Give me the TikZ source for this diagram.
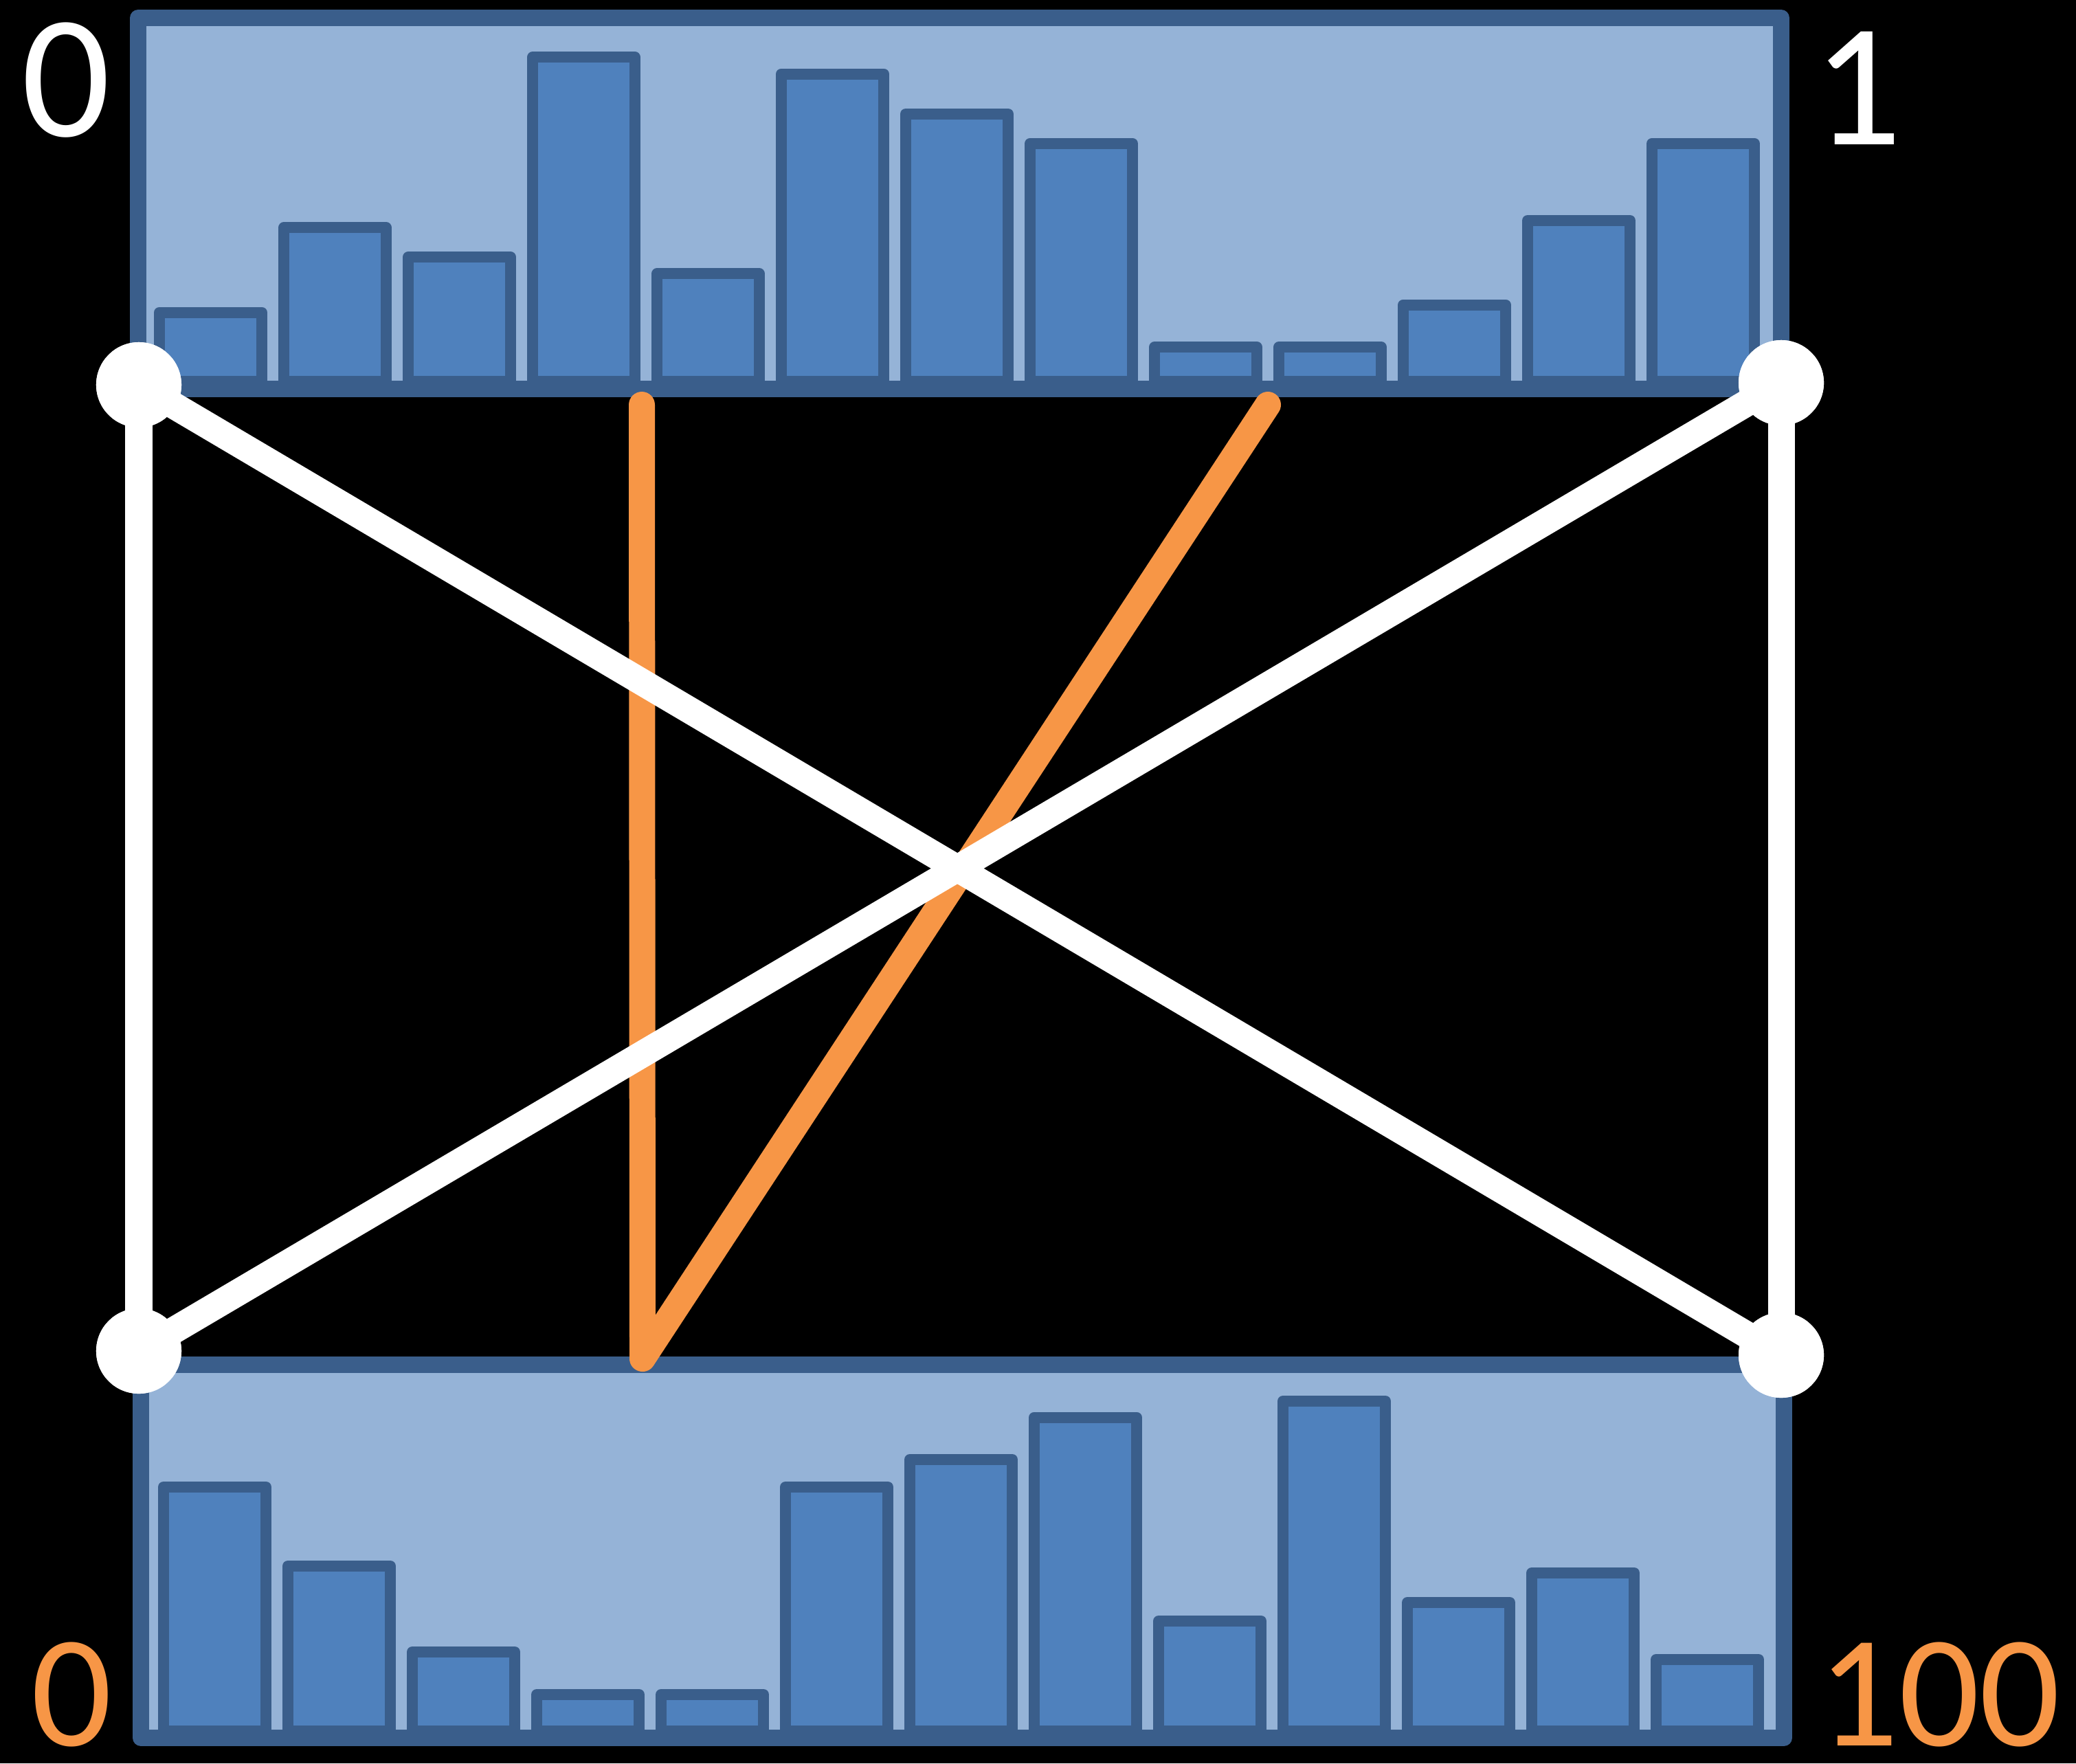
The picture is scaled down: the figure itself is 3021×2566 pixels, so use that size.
\documentclass[tikz,border=0pt]{standalone}
\usepackage{fontspec}
\setmainfont{Carlito}
\definecolor{panelfill}{HTML}{95B3D7}
\definecolor{panelline}{HTML}{3A5E8B}
\definecolor{barfill}{HTML}{4F81BD}
\definecolor{orangeline}{HTML}{F79646}
\begin{document}
\begin{tikzpicture}[x=0.01cm,y=-0.01cm,
  panel/.style={fill=panelfill,draw=panelline,line width=6.8pt,line join=round},
  bar/.style={fill=barfill,draw=panelline,line width=4.55pt,line join=round},
  wline/.style={draw=white,line width=11.1pt},
  oline/.style={draw=orangeline,line width=10.8pt,line cap=round,line join=round},
  dot/.style={circle,fill=white,minimum size=1.24cm,inner sep=0pt},
  toplabel/.style={text=white,inner sep=0pt,font=\fontsize{72.6}{80}\selectfont},
  botlabel/.style={text=orangeline,inner sep=0pt,font=\fontsize{66}{74}\selectfont}]
\fill[black] (0,0) rectangle (3021,2566);
\useasboundingbox (0,0) rectangle (3021,2566);
% panels
\draw[panel] (201,26) rectangle (2592,566);
\draw[panel] (205,1986) rectangle (2596,2529);
% top bars
\foreach \i/\t in {1/454.6,2/331.4,3/374.2,4/83.4,5/398.4,6/107.5,7/166,8/208.9,9/505.1,10/505.1,11/443.5,12/321,13/208.9}{
  \draw[bar] ({232+181*(\i-1)},555) rectangle ({381+181*(\i-1)},\t);
}
% bottom bars
\foreach \i/\t in {1/2164,2/2279,3/2404,4/2466,5/2466,6/2164,7/2124,8/2062.5,9/2359,10/2039,11/2332,12/2289,13/2415}{
  \draw[bar] ({238+181*(\i-1)},2519) rectangle ({387+181*(\i-1)},\t);
}
% orange path
\coordinate (o1) at (934,589);
\coordinate (o2) at (935,1977);
\coordinate (o3) at (1845,589);
\draw[oline] (o1) -- (o2) -- (o3);
% white nodes
\node[dot] (tl) at (202,560) {};
\node[dot] (tr) at (2592,557) {};
\node[dot] (bl) at (202,1966) {};
\node[dot] (br) at (2592,1972) {};
\draw[wline] (tl.center) -- (bl.center);
\draw[wline] (tr.center) -- (br.center);
\draw[wline] (tl.center) -- (br.center);
\draw[wline] (tr.center) -- (bl.center);
\node[dot] at (tl) {};
\node[dot] at (tr) {};
\node[dot] at (bl) {};
\node[dot] at (br) {};
% labels
\node[toplabel] (l0) at (96.5,117) {0};
\node[toplabel] (l1) at (2703,128) {1};
\node[botlabel] (b0) at (104.5,2466) {0};
\node[botlabel] (b100) at (2822,2466) {100};
\end{tikzpicture}
\end{document}
